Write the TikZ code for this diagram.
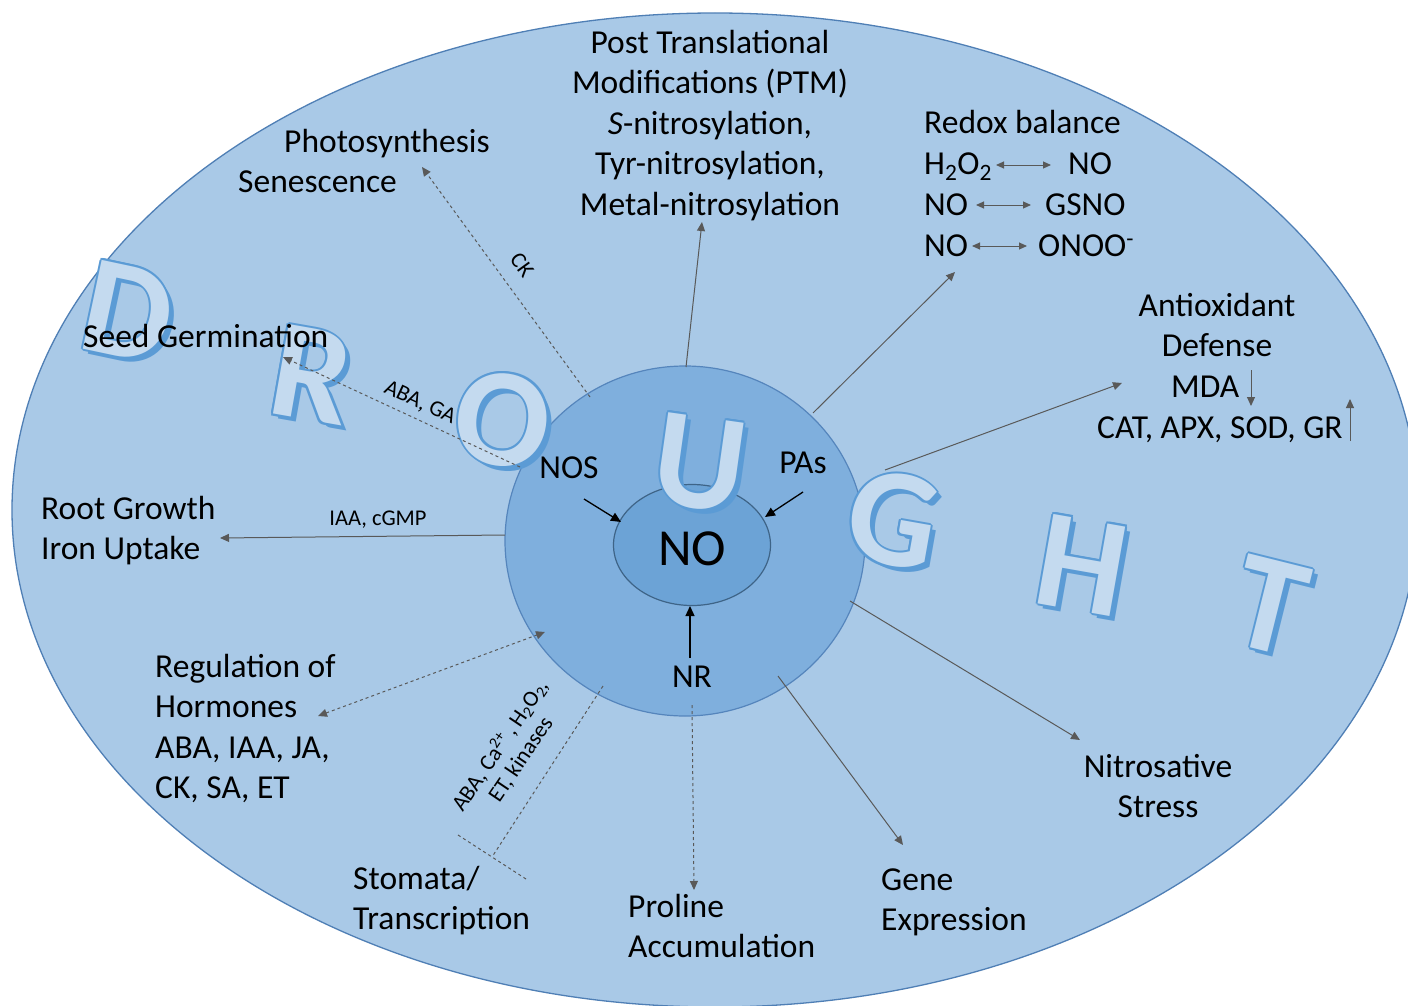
\documentclass[tikz,border=0pt]{standalone}
\usepackage{fontspec}
\setmainfont{Carlito}
\usetikzlibrary{arrows.meta,shapes.geometric}
\definecolor{bigfill}{HTML}{A9C9E7}
\definecolor{bigedge}{HTML}{4F7FB5}
\definecolor{midfill}{HTML}{7FAFDD}
\definecolor{midedge}{HTML}{5585BC}
\definecolor{corefill}{HTML}{6CA3D6}
\definecolor{coreedge}{HTML}{3E6487}
\definecolor{letshadow}{HTML}{5B9BD5}
\definecolor{letface}{HTML}{C4DAEF}
\definecolor{argray}{HTML}{595959}
\newcommand\dletter[5]{%
  \node[lshadow,rotate=#4] (#1-s) at (#2+5,#3+5) {#5};
  \foreach \dx/\dy [count=\k] in {2/0,-2/0,0/2,0/-2,1.4/1.4,-1.4/1.4,1.4/-1.4,-1.4/-1.4}
    \node[lshadow,rotate=#4] (#1-o\k) at (#2+\dx,#3+\dy) {#5};
  \node[lface,rotate=#4] (#1) at (#2,#3) {#5};
}
\begin{document}
\begin{tikzpicture}[x=1pt,y=-1pt,
  lbl/.style={font=\fontsize{33.5}{40.5}\selectfont, inner sep=0pt, text=black},
  sml/.style={font=\fontsize{22.5}{25}\selectfont, inner sep=0pt, text=black},
  lshadow/.style={font=\fontsize{140}{140}\selectfont\bfseries, inner sep=0pt, text=letshadow},
  lface/.style={font=\fontsize{140}{140}\selectfont\bfseries, inner sep=0pt, text=letface},
  tip/.style={-{Triangle[length=9pt,width=8pt]}},
  gline/.style={draw=argray, line width=1pt},
  solidar/.style={gline, tip},
  dashar/.style={gline, tip, dash pattern=on 3pt off 3pt},
  blackar/.style={draw=black, line width=1.3pt, -{Triangle[length=10pt,width=9pt]}},
  dbl/.style={draw=argray, line width=1pt, {Triangle[length=8pt,width=7pt]}-{Triangle[length=8pt,width=7pt]}}
]
\useasboundingbox (0,0) rectangle (1408,1006);
\fill[white] (0,0) rectangle (1408,1006);
\begin{scope}
\clip (0,0) rectangle (1408,1006);
\node[ellipse, draw=bigedge, fill=bigfill, line width=1.3pt, minimum width=1406pt, minimum height=994pt, inner sep=0pt] (big) at (715,510) {};
\end{scope}
\node[ellipse, draw=midedge, fill=midfill, line width=1.2pt, minimum width=360pt, minimum height=350pt, inner sep=0pt] (mid) at (685,541) {};
\node[ellipse, draw=coreedge, fill=corefill, line width=1.2pt, minimum width=157pt, minimum height=121pt, inner sep=0pt] (core) at (692,545) {};

% DROUGHT letters
\dletter{lD}{128}{312}{-12}{D}
\dletter{lR}{312}{375}{-10}{R}
\dletter{lO}{503}{420}{-8}{O}
\dletter{lU}{700}{463}{-8}{U}
\dletter{lG}{893}{520}{-10}{G}
\dletter{lH}{1082}{565}{-10}{H}
\dletter{lT}{1270}{606}{-14}{T}

% texts (multi-line nodes: base anchor = last line baseline)
\node[lbl, align=center, anchor=base] (ptm) at (710,215) {Post Translational\\Modifications (PTM)\\\textit{S}-nitrosylation,\\Tyr-nitrosylation,\\Metal-nitrosylation};
\node[lbl, anchor=base west] (photo) at (284,153) {Photosynthesis};
\node[lbl, anchor=base west] (senes) at (238,192) {Senescence};
\node[lbl, anchor=base west] (redox) at (924,134) {Redox balance};
\node[lbl, anchor=base west] (h2o2) at (924,174) {H\textsubscript{2}O\textsubscript{2}};
\node[lbl, anchor=base west] (noa) at (1068,174) {NO};
\node[lbl, anchor=base west] (nob) at (924,215) {NO};
\node[lbl, anchor=base west] (gsno) at (1045,215) {GSNO};
\node[lbl, anchor=base west] (noc) at (924,256) {NO};
\node[lbl, anchor=base west] (onoo) at (1038,256) {ONOO\textsuperscript{-}};
\node[lbl, align=center, anchor=base] (anti) at (1217,356.5) {Antioxidant\\Defense};
\node[lbl, anchor=base west] (mda) at (1171,397) {MDA};
\node[lbl, anchor=base west] (cat) at (1097,438) {CAT, APX, SOD, GR};
\node[lbl, anchor=base west] (seed) at (83,347) {Seed Germination};
\node[lbl, align=left, anchor=base west] (root) at (41,559.5) {Root Growth\\Iron Uptake};
\node[lbl, align=left, anchor=base west] (horm) at (155,798.5) {Regulation of\\Hormones\\ABA, IAA, JA,\\CK, SA, ET};
\node[lbl, align=left, anchor=base west] (stom) at (353,929.5) {Stomata/\\Transcription};
\node[lbl, align=left, anchor=base west] (prol) at (628,957.5) {Proline\\Accumulation};
\node[lbl, align=left, anchor=base west] (gene) at (881,930.5) {Gene\\Expression};
\node[lbl, align=center, anchor=base] (nitro) at (1158,817.5) {Nitrosative\\Stress};
\node[lbl, anchor=base] (nos) at (569,478) {NOS};
\node[lbl, anchor=base] (pas) at (803,473) {PAs};
\node[lbl, anchor=base] (nr) at (692,687) {NR};
\node[font=\fontsize{52}{52}\selectfont, inner sep=0pt, anchor=base] (no) at (692,565) {NO};

% small labels
\node[sml, rotate=-54] (lck) at (522,265) {CK};
\node[sml, rotate=-25] (lga) at (420,403) {ABA, GA};
\node[sml] (liaa) at (378,520) {IAA, cGMP};
\node[sml, rotate=56, align=center] (lst) at (510,752) {ABA, Ca\textsuperscript{2+}\,, H\textsubscript{2}O\textsubscript{2},\\ET, kinases};

% coordinates
\coordinate (ckS) at (590,397); \coordinate (ckE) at (422,167);
\coordinate (gaS) at (520,467); \coordinate (gaE) at (283,357);
\coordinate (ptmS) at (686,367); \coordinate (ptmE) at (702,222);
\coordinate (rdS) at (813,413); \coordinate (rdE) at (955,272);
\coordinate (axS) at (885,470); \coordinate (axE) at (1122,383);
\coordinate (rtS) at (505,535); \coordinate (rtE) at (220,538);
\coordinate (hmS) at (545,632); \coordinate (hmE) at (318,716);
\coordinate (stS) at (603,686); \coordinate (stE) at (492,857);
\coordinate (barA) at (458,835); \coordinate (barB) at (526,879);
\coordinate (prS) at (692,705); \coordinate (prE) at (694,890);
\coordinate (geS) at (778,676); \coordinate (geE) at (903,845);
\coordinate (nsS) at (850,601); \coordinate (nsE) at (1080,740);
\coordinate (nosS) at (584,499); \coordinate (nosE) at (621,522);
\coordinate (pasS) at (803,492); \coordinate (pasE) at (765,517);
\coordinate (nrS) at (690,658); \coordinate (nrE) at (690,606);
\coordinate (r1a) at (996,165); \coordinate (r1b) at (1051,165);
\coordinate (r2a) at (976,205); \coordinate (r2b) at (1031,205);
\coordinate (r3a) at (972,246); \coordinate (r3b) at (1027,246);
\coordinate (md1) at (1251,370); \coordinate (md2) at (1251,406);
\coordinate (gr1) at (1350,441); \coordinate (gr2) at (1350,399);

% connectors
\draw[dashar] (ckS) -- (ckE);
\draw[dashar] (gaS) -- (gaE);
\draw[solidar] (ptmS) -- (ptmE);
\draw[solidar] (rdS) -- (rdE);
\draw[solidar] (axS) -- (axE);
\draw[solidar] (rtS) -- (rtE);
\draw[gline, dash pattern=on 3pt off 3pt, {Triangle[length=9pt,width=8pt]}-{Triangle[length=9pt,width=8pt]}] (hmE) -- (hmS);
\draw[gline, dash pattern=on 3pt off 3pt] (stS) -- (stE);
\draw[gline, dash pattern=on 3pt off 3pt] (barA) -- (barB);
\draw[dashar] (prS) -- (prE);
\draw[solidar] (geS) -- (geE);
\draw[solidar] (nsS) -- (nsE);
\draw[blackar] (nosS) -- (nosE);
\draw[blackar] (pasS) -- (pasE);
\draw[blackar] (nrS) -- (nrE);
\draw[dbl] (r1a) -- (r1b);
\draw[dbl] (r2a) -- (r2b);
\draw[dbl] (r3a) -- (r3b);
\draw[solidar] (md1) -- (md2);
\draw[solidar] (gr1) -- (gr2);
\end{tikzpicture}
\end{document}
